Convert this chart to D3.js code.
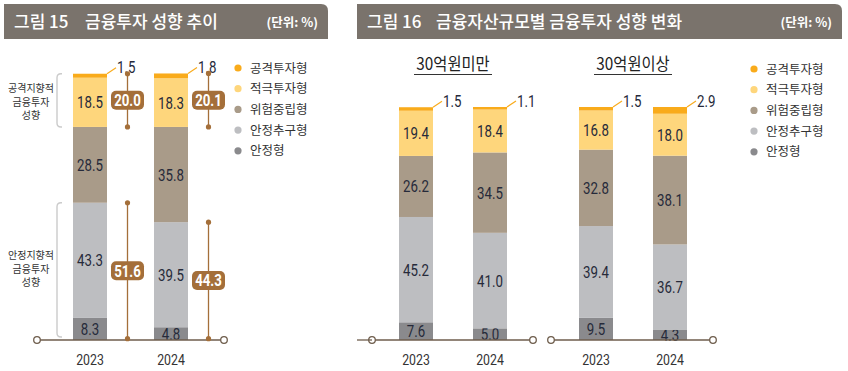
<!DOCTYPE html>
<html>
<head>
<meta charset="utf-8">
<script src="https://cdn.jsdelivr.net/npm/d3@7"></script>
<style>
  body { margin: 0; background: #fff; }
  svg { display: block; font-family: "Noto Sans CJK KR", "Noto Sans", sans-serif; }
  .num { font-family: "Roboto", "Noto Sans CJK KR", sans-serif; }
</style>
</head>
<body>
<svg id="chart"></svg>
<script>
// series, bottom to top
const types = ["안정형", "안정추구형", "위험중립형", "적극투자형", "공격투자형"];
const legendOrder = ["공격투자형", "적극투자형", "위험중립형", "안정추구형", "안정형"];
const colors = ["#8a8a8d", "#bdbec1", "#a99b89", "#fed67c", "#f9ab1b"];
const years = ["2023", "2024"];

// 그림 15
const trend = [
  { year: "2023", "안정형": 8.3, "안정추구형": 43.3, "위험중립형": 28.5, "적극투자형": 18.5, "공격투자형": 1.5 },
  { year: "2024", "안정형": 4.8, "안정추구형": 39.5, "위험중립형": 35.8, "적극투자형": 18.3, "공격투자형": 1.8 }
];
const aggressiveSum = [20.0, 20.1];
const stableSum = [51.6, 44.3];

// 그림 16
const groups = ["30억원미만", "30억원이상"];
const under30 = [
  { year: "2023", "안정형": 7.6, "안정추구형": 45.2, "위험중립형": 26.2, "적극투자형": 19.4, "공격투자형": 1.5 },
  { year: "2024", "안정형": 5.0, "안정추구형": 41.0, "위험중립형": 34.5, "적극투자형": 18.4, "공격투자형": 1.1 }
];
const over30 = [
  { year: "2023", "안정형": 9.5, "안정추구형": 39.4, "위험중립형": 32.8, "적극투자형": 16.8, "공격투자형": 1.5 },
  { year: "2024", "안정형": 4.3, "안정추구형": 36.7, "위험중립형": 38.1, "적극투자형": 18.0, "공격투자형": 2.9 }
];

const svg = d3.select("#chart").attr("width", 848).attr("height", 371);
const color = d3.scaleOrdinal().domain(types).range(colors);
const stack = d3.stack().keys(types);
const axisColor = "#6e5d4c";
const boxColor = "#a46f3a";

function header(x0, x1, fig, title, titleX, unit) {
  const y0 = 4, y1 = 39, r = 7;
  svg.append("path")
    .attr("d", `M${x0},${y0} H${x1 - r} Q${x1},${y0} ${x1},${y0 + r} V${y1} H${x0} Z`)
    .attr("fill", "#7a736c");
  svg.append("text").attr("x", x0 + 10).attr("y", 28)
    .attr("fill", "#fff").attr("font-size", 17).attr("font-weight", 500)
    .text(fig);
  svg.append("text").attr("x", titleX).attr("y", 28)
    .attr("fill", "#fff").attr("font-size", 17).attr("font-weight", 500)
    .text(title);
  svg.append("text").attr("x", x1 - 10).attr("y", 27)
    .attr("text-anchor", "end").attr("fill", "#fff").attr("font-size", 12.5).attr("font-weight", 700)
    .text(unit);
}

function legend(x, y0) {
  const g = svg.append("g");
  legendOrder.forEach((k, i) => {
    const y = y0 + i * 20.7;
    g.append("circle").attr("cx", x).attr("cy", y).attr("r", 3.6).attr("fill", color(k));
    g.append("text").attr("x", x + 12).attr("y", y + 4.5)
      .attr("font-size", 12.5).attr("fill", "#333").text(k);
  });
}

function bars(data, x, y) {
  const layers = stack(data);
  const g = svg.append("g");
  layers.forEach(layer => {
    const key = layer.key;
    const lg = g.append("g");
    lg.selectAll("rect").data(layer).join("rect")
      .attr("x", d => x(d.data.year))
      .attr("width", x.bandwidth())
      .attr("y", d => y(d[1]))
      .attr("height", d => y(d[0]) - y(d[1]))
      .attr("fill", color(key));
    if (key !== "공격투자형") {
      lg.selectAll("text").data(layer).join("text")
        .attr("class", "num cond")
        .attr("x", d => x(d.data.year) + x.bandwidth() / 2)
        .attr("y", d => (y(d[0]) + y(d[1])) / 2 + 6)
        .attr("text-anchor", "middle").attr("font-size", 17)
        .attr("fill", "#262a3a")
        .text(d => d.data[key].toFixed(1));
    } else {
      // small top segment: leader line + outside label
      lg.selectAll("line").data(layer).join("line")
        .attr("x1", d => x(d.data.year) + x.bandwidth())
        .attr("y1", d => y(d[1]))
        .attr("x2", d => x(d.data.year) + x.bandwidth() + 9)
        .attr("y2", d => y(d[1]) - 6)
        .attr("stroke", color(key)).attr("stroke-width", 1.2);
      lg.selectAll("text").data(layer).join("text")
        .attr("class", "num cond")
        .attr("x", d => x(d.data.year) + x.bandwidth() + 10)
        .attr("y", d => y(d[1]) - 0.5)
        .attr("font-size", 17).attr("fill", "#262a3a")
        .text(d => d.data[key].toFixed(1));
    }
  });
  return layers;
}

function baseline(xa, xb, y) {
  svg.append("line").attr("x1", xa).attr("x2", xb).attr("y1", y).attr("y2", y)
    .attr("stroke", axisColor).attr("stroke-width", 1.3);
  [xa, xb].forEach(cx => svg.append("circle").attr("cx", cx).attr("cy", y).attr("r", 3.3)
    .attr("fill", "#fff").attr("stroke", axisColor).attr("stroke-width", 1.3));
}

function yearLabels(x, yPos) {
  svg.append("g").selectAll("text").data(years).join("text")
    .attr("class", "num cond").attr("data-f", 0.85)
    .attr("x", d => x(d) + x.bandwidth() / 2)
    .attr("y", yPos)
    .attr("text-anchor", "middle").attr("font-size", 14.5).attr("fill", "#333")
    .text(d => d);
}

// ---------- 그림 15 ----------
header(4, 328, "그림 15", "금융투자 성향 추이", 85, "(단위: %)");

const xL = d3.scaleBand().domain(years).range([73, 188]).paddingInner(47 / 81);
const yL = d3.scaleLinear().domain([0, 100]).range([340, 74]);
const layersL = bars(trend, xL, yL);
baseline(37, 224, 340);
yearLabels(xL, 365);

// brackets with group labels
function bracket(yTop, yBot, lines, textY) {
  const bx = 57, r = 4;
  svg.append("path")
    .attr("d", `M${bx + 5},${yTop} H${bx + r} Q${bx},${yTop} ${bx},${yTop + r} V${yBot - r} Q${bx},${yBot} ${bx + r},${yBot} H${bx + 5}`)
    .attr("fill", "none").attr("stroke", "#cbcbcb").attr("stroke-width", 1.4);
  lines.forEach((t, i) => svg.append("text")
    .attr("x", 31).attr("y", textY + i * 13.5)
    .attr("text-anchor", "middle").attr("font-size", 10).attr("fill", "#333").text(t));
}
const topL = layersL[4][0][1];
bracket(yL(topL), yL(topL - aggressiveSum[0]), ["공격지향적", "금융투자", "성향"], 92);
bracket(yL(stableSum[0]), yL(0) - 3, ["안정지향적", "금융투자", "성향"], 259);

// sum annotations
function sumMarker(cx, v0, v1, value) {
  const ya = yL(v0), yb = yL(v1);
  const g = svg.append("g");
  g.append("line").attr("x1", cx).attr("x2", cx).attr("y1", ya).attr("y2", yb)
    .attr("stroke", boxColor).attr("stroke-width", 1.3);
  [ya, yb].forEach(cy => g.append("circle").attr("cx", cx).attr("cy", cy).attr("r", 2.6).attr("fill", boxColor));
  const my = (ya + yb) / 2;
  g.append("rect").attr("x", cx - 16.5).attr("y", my - 9.5).attr("width", 33).attr("height", 19)
    .attr("rx", 5).attr("fill", boxColor);
  g.append("text").attr("class", "num cond").attr("x", cx).attr("y", my + 6)
    .attr("text-anchor", "middle").attr("font-size", 17).attr("font-weight", 700)
    .attr("fill", "#fff").text(value.toFixed(1));
}
years.forEach((yr, i) => {
  const cx = xL(yr) + xL.bandwidth() + 20.5;
  const top = layersL[4][i][1];
  sumMarker(cx, top, top - aggressiveSum[i], aggressiveSum[i]);
  sumMarker(cx, stableSum[i], 0.5, stableSum[i]);
});

legend(238, 68);

// ---------- 그림 16 ----------
header(357, 842, "그림 16", "금융자산규모별 금융투자 성향 변화", 436, "(단위: %)");

const yR = d3.scaleLinear().domain([0, 100]).range([340, 107]);
const panels = [
  { name: groups[0], data: under30, range: [399, 507], axis: [372, 533] },
  { name: groups[1], data: over30, range: [579, 687], axis: [551, 713] }
];
panels.forEach(p => {
  const x = d3.scaleBand().domain(years).range(p.range).paddingInner(40 / 74);
  bars(p.data, x, yR);
  baseline(p.axis[0], p.axis[1], 340);
  yearLabels(x, 365);
  const cx = (p.range[0] + p.range[1]) / 2;
  svg.append("text").attr("class", "cond").attr("data-f", 0.9).attr("x", cx).attr("y", 70)
    .attr("text-anchor", "middle").attr("font-size", 17).attr("fill", "#222")
    .text(p.name);
  svg.append("line").attr("x1", cx - 39).attr("x2", cx + 39).attr("y1", 74.5).attr("y2", 74.5)
    .attr("stroke", "#333").attr("stroke-width", 1.2);
});
// left end of group 1 axis extends to panel edge
svg.append("line").attr("x1", 357).attr("x2", 372).attr("y1", 340).attr("y2", 340)
  .attr("stroke", axisColor).attr("stroke-width", 1.3);

legend(754, 69);

// narrow the numeric labels to mimic the condensed face of the original
svg.selectAll("text.cond").each(function () {
  const f = +(this.getAttribute("data-f") || 0.78);
  const len = this.getComputedTextLength();
  d3.select(this).attr("textLength", len * f).attr("lengthAdjust", "spacingAndGlyphs");
});
</script>
</body>
</html>
